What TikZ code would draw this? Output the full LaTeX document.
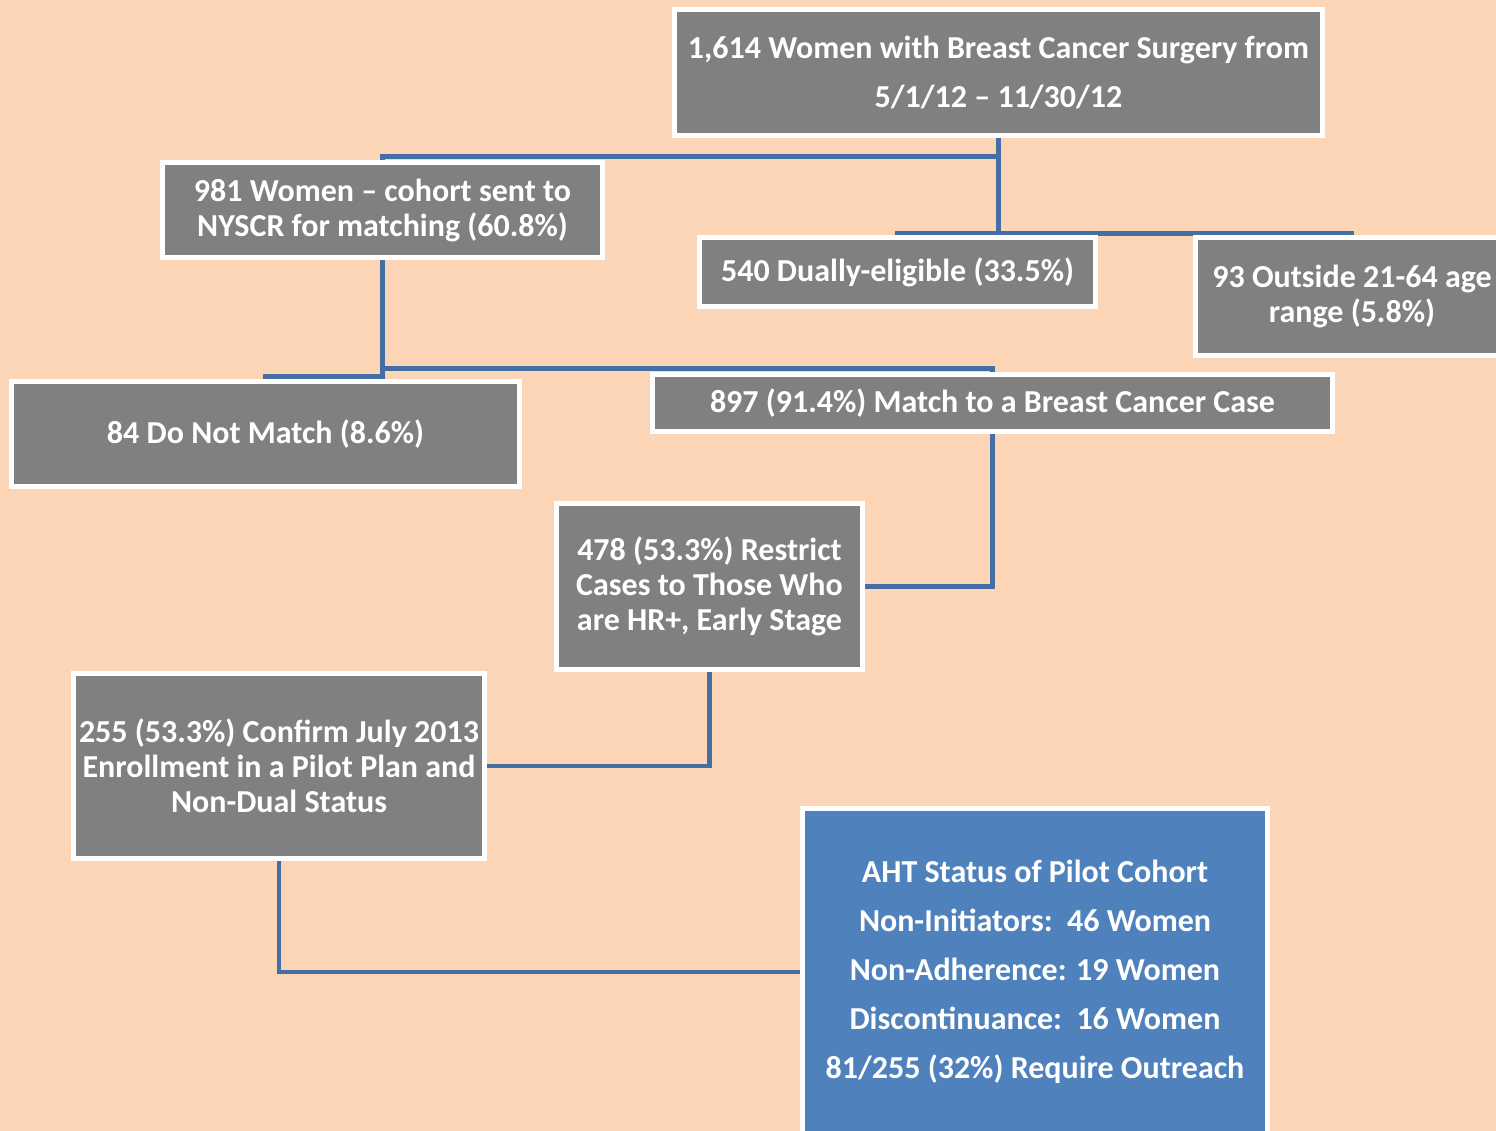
\documentclass[tikz,border=0pt]{standalone}
\usepackage{fontspec}
\setmainfont{Carlito}
\usetikzlibrary{backgrounds}
\definecolor{peach}{RGB}{251,213,181}
\definecolor{boxgray}{RGB}{128,128,128}
\definecolor{boxblue}{RGB}{79,129,189}
\definecolor{connblue}{RGB}{68,110,164}
\tikzset{
  gbox/.style={draw=white, line width=5pt, fill=boxgray, text=white, align=center,
    inner sep=0pt, font=\bfseries\fontsize{32}{35}\selectfont},
  bbox/.style={gbox, fill=boxblue},
  conn/.style={draw=connblue, line width=4.5pt}
}
\begin{document}
\begin{tikzpicture}[x=1pt,y=-1pt]
\useasboundingbox (0,0) rectangle (1496,1131);
\clip (0,0) rectangle (1496,1131);
\node[gbox, minimum width=648pt, minimum height=126pt, font=\bfseries\fontsize{32}{49}\selectfont] (top) at (998.5,72.5) {1,614 Women with Breast Cancer Surgery from\\5/1/12 -- 11/30/12};
\node[gbox, minimum width=440pt, minimum height=95pt] (n981) at (382.5,210) {981 Women -- cohort sent to\\NYSCR for matching (60.8\%)};
\node[gbox, minimum width=396pt, minimum height=69pt] (n540) at (897.5,272) {540 Dually-eligible (33.5\%)};
\node[gbox, minimum width=313pt, minimum height=118pt] (n93) at (1352,296.5) {93 Outside 21-64 age\\range (5.8\%)};
\node[gbox, minimum width=508pt, minimum height=105pt] (n84) at (265.5,434) {84 Do Not Match (8.6\%)};
\node[gbox, minimum width=680pt, minimum height=57pt] (n897) at (992.5,403) {897 (91.4\%) Match to a Breast Cancer Case};
\node[gbox, minimum width=306pt, minimum height=166pt] (n478) at (709.5,586.5) {478 (53.3\%) Restrict\\Cases to Those Who\\are HR+, Early Stage};
\node[gbox, minimum width=411pt, minimum height=185pt] (n255) at (279,766) {255 (53.3\%) Confirm July 2013\\Enrollment in a Pilot Plan and\\Non-Dual Status};
\node[bbox, minimum width=465pt, minimum height=327pt, font=\bfseries\fontsize{32}{49}\selectfont] (aht) at (1035,972) {AHT Status of Pilot Cohort\\Non-Initiators:\ \ 46 Women\\Non-Adherence: 19 Women\\Discontinuance:\ \ 16 Women\\81/255 (32\%) Require Outreach};
\begin{scope}[on background layer]
\fill[peach] (0,0) rectangle (1496,1131);
\draw[conn] (top.south) -- ++(0,18.5) -| (n981.north);
\draw[conn] (top.south) -- ++(0,95.5) coordinate (j2);
\draw[conn] (n540.north) |- (j2) -| (n93.north);
\draw[conn] (n981.south) -- ++(0,108.5) -| (n897.north);
\draw[conn] (n981.south) -- ++(0,116.5) -| (n84.north);
\draw[conn] (n897.south) |- (n478.east);
\draw[conn] (n478.south) |- (n255.east);
\draw[conn] (n255.south) |- (aht.west);
\end{scope}
\end{tikzpicture}
\end{document}
